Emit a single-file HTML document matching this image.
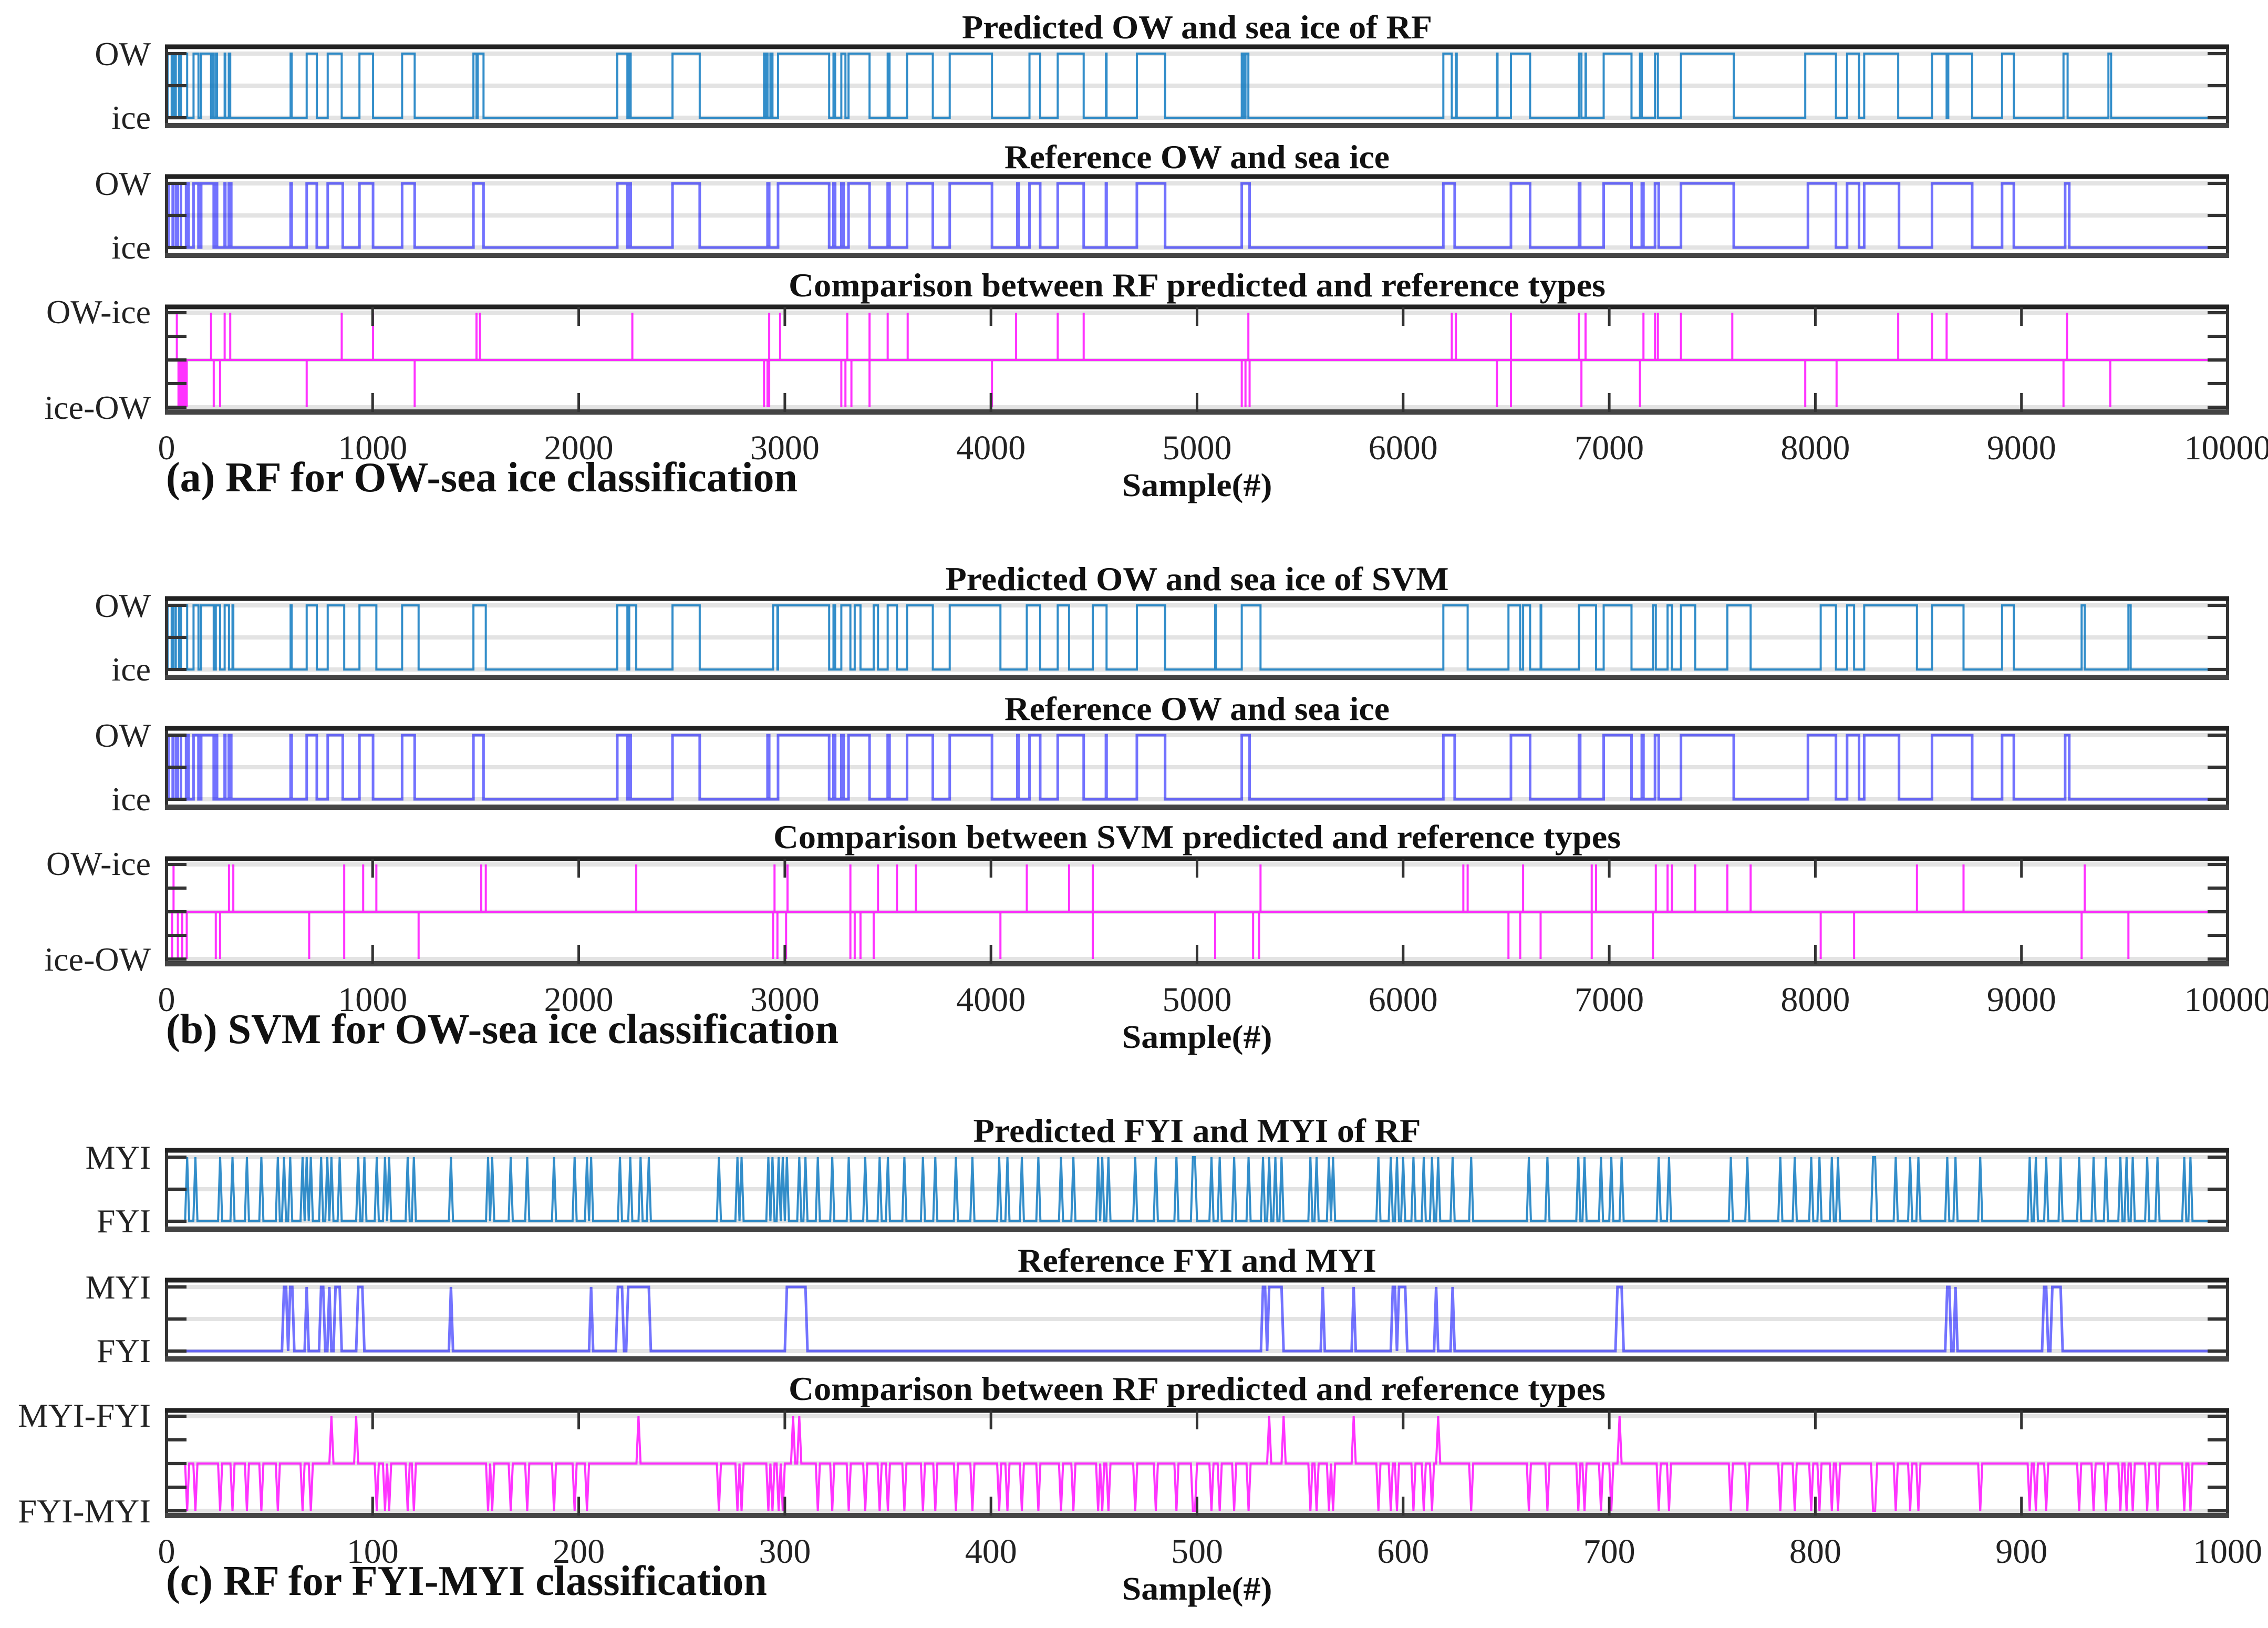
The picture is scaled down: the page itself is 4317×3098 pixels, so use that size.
<!DOCTYPE html>
<html><head><meta charset="utf-8"><style>
html,body{margin:0;padding:0;background:#fff;}
svg{display:block;font-family:"Liberation Serif",serif;}
</style></head><body>
<svg id="fig" width="4317" height="3098" viewBox="0 0 4317 3098" xmlns="http://www.w3.org/2000/svg"></svg>
<script>
// ---------- data (OW-sea ice, samples 0..10000) ----------
const rfPredOW = [[5,25],[30,40],[45,60],[70,100],[131,155],[168,216],[220,229],[240,245],[282,285],[302,309],[602,607],[680,729],[782,850],[936,1002],[1143,1204],[1489,1504],[1510,1538],[2187,2236],[2245,2252],[2455,2587],[2899,2905],[2910,2916],[2930,2940],[2967,3215],[3236,3244],[3274,3294],[3309,3411],[3499,3508],[3593,3718],[3800,4005],[4187,4239],[4324,4450],[4558,4561],[4708,4845],[5217,5225],[5235,5249],[6195,6236],[6256,6260],[6455,6458],[6523,6616],[6853,6865],[6885,6887],[6973,7108],[7149,7158],[7222,7236],[7348,7604],[7951,8100],[8154,8212],[8237,8402],[8566,8637],[8645,8761],[8906,8963],[9204,9224],[9422,9435]];
const refOW = [[10,30],[45,55],[70,95],[100,107],[131,155],[168,229],[240,245],[282,285],[302,314],[602,607],[680,729],[782,855],[936,1002],[1143,1204],[1489,1538],[2187,2236],[2245,2252],[2455,2587],[2916,2924],[2967,3215],[3236,3244],[3274,3285],[3309,3411],[3499,3508],[3593,3718],[3800,4005],[4128,4135],[4187,4239],[4324,4450],[4558,4561],[4708,4845],[5217,5255],[6195,6250],[6523,6616],[6853,6859],[6973,7108],[7158,7166],[7222,7240],[7348,7604],[7964,8100],[8154,8212],[8237,8406],[8566,8761],[8906,8963],[9212,9232]];
const svmPredOW = [[5,25],[27,34],[45,60],[70,100],[131,155],[168,229],[239,260],[282,303],[320,324],[602,607],[680,729],[782,862],[936,1018],[1143,1223],[1489,1549],[2187,2236],[2245,2279],[2455,2587],[2943,2964],[2967,3215],[3236,3244],[3274,3318],[3339,3367],[3431,3452],[3499,3544],[3593,3718],[3800,4046],[4174,4239],[4324,4379],[4494,4561],[4708,4845],[5088,5092],[5217,5308],[6195,6313],[6511,6568],[6582,6616],[6667,6670],[6853,6936],[6973,7108],[7212,7226],[7283,7304],[7348,7417],[7573,7686],[8026,8100],[8154,8188],[8237,8493],[8566,8719],[8906,8963],[9292,9307],[9519,9530]];
const rfCompUp = [50,216,282,309,850,1002,1504,1521,2260,2924,2977,3303,3411,3499,3596,4122,4324,4450,5249,6236,6256,6523,6853,6885,7166,7222,7236,7348,7597,8402,8566,8637,9221];
const rfCompDown = [58,68,78,88,98,229,260,680,1204,2899,2916,2924,3274,3294,3323,3411,4005,5217,5235,5255,6455,6523,6865,7149,7951,8103,9204,9431];
const svmCompUp = [34,303,324,862,954,1018,1527,1549,2279,2950,3013,3318,3452,3544,3636,4174,4379,4494,5308,6292,6313,6582,6915,6936,7226,7283,7304,7417,7573,7686,8493,8719,9307];
const svmCompDown = [27,55,76,98,239,260,692,862,1223,2943,2964,3006,3318,3339,3367,3431,4046,4494,5088,5272,5301,6511,6568,6667,6915,7212,8026,8188,9292,9519];
// ---------- data (FYI-MYI, samples 0..1000) ----------
const fyiPredMYI = [10,14,26,32,39,46,54,57,60,66,68,70,75,78,80,84,93,96,102,106,108,117,120,138,156,158,167,175,188,198,204,206,220,225,230,234,268,277,279,292,294,297,299,301,307,310,316,323,331,339,346,350,358,367,373,383,391,404,408,415,423,434,440,452,454,457,470,480,490,498,499,507,511,518,525,532,535,538,541,555,558,564,566,588,594,597,600,605,610,614,617,624,633,661,670,685,688,696,701,706,724,729,759,767,783,790,798,802,808,811,828,829,839,846,850,864,868,880,904,907,912,919,928,935,941,948,951,954,961,966,979,982];
const fyiRefMYI = [[57,58],[60,61],[68,68],[75,76],[79,79],[82,84],[93,95],[138,138],[206,206],[219,221],[224,234],[301,310],[532,533],[535,541],[561,561],[576,576],[595,596],[598,601],[616,616],[624,624],[704,706],[864,865],[868,868],[911,912],[915,919]];
const fyiCompUp = [80,92,229,304,307,535,542,576,617,705];
const fyiCompDown = [10,14,26,32,39,46,54,66,70,102,106,108,117,120,156,158,167,175,188,198,204,268,277,279,292,294,297,299,316,323,331,339,346,350,358,367,373,383,391,404,408,415,423,434,440,452,454,457,470,480,490,498,499,507,511,518,525,555,558,564,566,588,594,597,605,610,614,633,661,670,685,688,696,701,724,729,759,767,783,790,798,802,808,811,828,829,839,846,850,880,904,907,912,928,935,941,948,951,954,961,966,979,982];
const tickLabelsA = ["0","1000","2000","3000","4000","5000","6000","7000","8000","9000","10000"];
const tickLabelsC = ["0","100","200","300","400","500","600","700","800","900","1000"];

const NS = "http://www.w3.org/2000/svg";
const svg = document.getElementById("fig");
const X0 = 317, XW = 3923;
function mk(tag, attrs, parent){ const e=document.createElementNS(NS,tag); for(const k in attrs) e.setAttribute(k,attrs[k]); (parent||svg).appendChild(e); return e; }
function txt(str, attrs, parent){ const e=mk("text",attrs,parent); e.textContent=str; return e; }

function frameBox(g, top, bottom, levels, minor, xticks){
  // gridlines
  levels.forEach(y=>{ const l=mk("line",{x1:X0,x2:X0+XW,y1:y,y2:y,stroke:"#e3e3e3","stroke-width":8},g);
    
     });
  return function finish(){
    const r=mk("rect",{x:X0,y:top,width:XW,height:bottom-top,fill:"none",stroke:"#333","stroke-width":6},g);
    
    
    const t1=mk("line",{x1:X0-3,x2:X0+XW+3,y1:top,y2:top,stroke:"#222","stroke-width":9},g);
    
    
    const t2=mk("line",{x1:X0-3,x2:X0+XW+3,y1:bottom,y2:bottom,stroke:"#444","stroke-width":10},g);
    
    
    levels.concat(minor).forEach(y=>{
      const a=mk("line",{x1:X0,x2:X0+38,y1:y,y2:y,stroke:"#333","stroke-width":6},g);
      
      
      const b=mk("line",{x1:X0+XW-38,x2:X0+XW,y1:y,y2:y,stroke:"#333","stroke-width":6},g);
      
      
    });
    if(xticks){ for(let i=1;i<10;i++){ const x=X0+XW*i/10;
      const a=mk("line",{x1:x,x2:x,y1:top,y2:top+36,stroke:"#333","stroke-width":5},g);
      
      
      const b=mk("line",{x1:x,x2:x,y1:bottom-36,y2:bottom,stroke:"#333","stroke-width":5},g);
      
       } }
  };
}

function stepPath(segs, xf, yHi, yLo, xmax){
  let d="M"+xf(0)+" "+yLo;
  segs.forEach(s=>{ d+=" H"+xf(s[0])+" V"+yHi+" H"+xf(s[1])+" V"+yLo; });
  return d+" H"+xf(xmax);
}
function spikePath(up, down, xf, yMid, yUp, yDn, xmax){
  let d="M"+xf(0)+" "+yMid+" H"+xf(xmax);
  up.forEach(s=>{ d+=" M"+xf(s)+" "+yMid+" V"+yUp; });
  down.forEach(s=>{ d+=" M"+xf(s)+" "+yMid+" V"+yDn; });
  return d;
}
function pointsPath(vals, xf, yOf){
  let d=""; vals.forEach((v,i)=>{ d+=(i?" L":"M")+xf(i)+" "+yOf(v); }); return d;
}

function title(g, str, y, w){
  const t=txt(str,{x:X0+XW/2,y:y,"text-anchor":"middle","font-weight":"bold","font-size":64,textLength:w,lengthAdjust:"spacingAndGlyphs",fill:"#111"},g);
  
  
}
function ylab(g, str, y, w){
  const a={x:287,y:y,"text-anchor":"end","font-size":64,fill:"#222"};
  if(w){a.textLength=w;a.lengthAdjust="spacingAndGlyphs";}
  const t=txt(str,a,g);
  
  
}

function binaryPanel(off, top, titleStr, titleW, segs, color, op, width, hiLab, loLab, name, xf, xmax){
  const g=mk("g",{});
  
  
  const T=off+top, B=T+150, yHi=T+13, yLo=T+135, yMid=T+74;
  const fin=frameBox(g,T,B,[yHi,yMid,yLo],[],false);
  const p=mk("path",{d:stepPath(segs,xf,yHi,yLo,xmax),fill:"none",stroke:color,"stroke-opacity":op,"stroke-width":width,"stroke-linejoin":"miter"},g);
  
  
  fin();
  title(g,titleStr,T-16,titleW);
  ylab(g,hiLab,yHi+22); ylab(g,loLab,yLo+21);
}
function compPanel(off, titleStr, titleW, dPath, hiLab, loLab, labW, name){
  const g=mk("g",{});
  
  
  const T=off+584, B=off+784;
  const fin=frameBox(g,T,B,[off+595,off+685,off+775],[off+640,off+730],true);
  const p=mk("path",{d:dPath,fill:"none",stroke:"#ff00ff","stroke-opacity":0.8,"stroke-width":4},g);
  
  
  fin();
  title(g,titleStr,T-20,titleW);
  ylab(g,hiLab,off+615,labW); ylab(g,loLab,off+797,labW);
}
function xAxis(off, labels, caption, capW){
  labels.forEach((l,i)=>{
    const t=txt(l,{x:X0+XW*i/10,y:off+874,"text-anchor":"middle","font-size":66,fill:"#222"});
    
    
  });
  const s=txt("Sample(#)",{x:X0+XW/2,y:off+944,"text-anchor":"middle","font-weight":"bold","font-size":62,textLength:286,lengthAdjust:"spacingAndGlyphs",fill:"#111"});
  
  
  const c=txt(caption,{x:316,y:off+935,"font-weight":"bold","font-size":80,textLength:capW,lengthAdjust:"spacingAndGlyphs",fill:"#111"});
  
  
}

const xa = s => X0 + s*XW/10000;
const xc = s => X0 + s*XW/1000;

// Panel (a)
binaryPanel(0,89,"Predicted OW and sea ice of RF",895,rfPredOW,"#0072BD",0.8,4,"OW","ice","rf-predicted-panel",xa,10000);
binaryPanel(0,336,"Reference OW and sea ice",733,refOW,"#0000ff",0.55,5,"OW","ice","reference-panel-a",xa,10000);
compPanel(0,"Comparison between RF predicted and reference types",1555,spikePath(rfCompUp,rfCompDown,xa,685,595,775,10000),"OW-ice","ice-OW",null,"rf-comparison-panel");
xAxis(0,tickLabelsA,"(a) RF for OW-sea ice classification",1202);

// Panel (b)
binaryPanel(1050,89,"Predicted OW and sea ice of SVM",958,svmPredOW,"#0072BD",0.8,4,"OW","ice","svm-predicted-panel",xa,10000);
binaryPanel(1050,336,"Reference OW and sea ice",733,refOW,"#0000ff",0.55,5,"OW","ice","reference-panel-b",xa,10000);
compPanel(1050,"Comparison between SVM predicted and reference types",1613,spikePath(svmCompUp,svmCompDown,xa,1050+685,1050+595,1050+775,10000),"OW-ice","ice-OW",null,"svm-comparison-panel");
xAxis(1050,tickLabelsA,"(b) SVM for OW-sea ice classification",1280);

// Panel (c)
const predVals=[]; for(let i=0;i<=1000;i++) predVals.push(0);
fyiPredMYI.forEach(i=>{ predVals[i]=1; });
const refVals=[]; for(let i=0;i<=1000;i++) refVals.push(0);
fyiRefMYI.forEach(s=>{ for(let i=s[0];i<=s[1];i++) refVals[i]=1; });
const compVals=[]; for(let i=0;i<=1000;i++) compVals.push(0);
fyiCompUp.forEach(i=>{ compVals[i]=1; });
fyiCompDown.forEach(i=>{ compVals[i]=-1; });

(function(){
  const off=2100;
  [["Predicted FYI and MYI of RF",852,predVals,"#0072BD",0.8,4,89,"fyi-predicted-panel"],
   ["Reference FYI and MYI",683,refVals,"#0000ff",0.55,5,336,"fyi-reference-panel"]].forEach(c=>{
    const g=mk("g",{});
    
    
    const T=off+c[6], B=T+150, yHi=T+13, yLo=T+135, yMid=T+74;
    const fin=frameBox(g,T,B,[yHi,yMid,yLo],[],false);
    const p=mk("path",{d:pointsPath(c[2],xc,v=>v?yHi:yLo),fill:"none",stroke:c[3],"stroke-opacity":c[4],"stroke-width":c[5]},g);
    
    
    fin();
    title(g,c[0],T-16,c[1]);
    ylab(g,"MYI",yHi+22); ylab(g,"FYI",yLo+21);
  });
  compPanel(off,"Comparison between RF predicted and reference types",1555,
    pointsPath(compVals,xc,v=>off+685-v*90),"MYI-FYI","FYI-MYI",253,"fyi-comparison-panel");
  xAxis(off,tickLabelsC,"(c) RF for FYI-MYI classification",1144);
})();
</script>
</body></html>
